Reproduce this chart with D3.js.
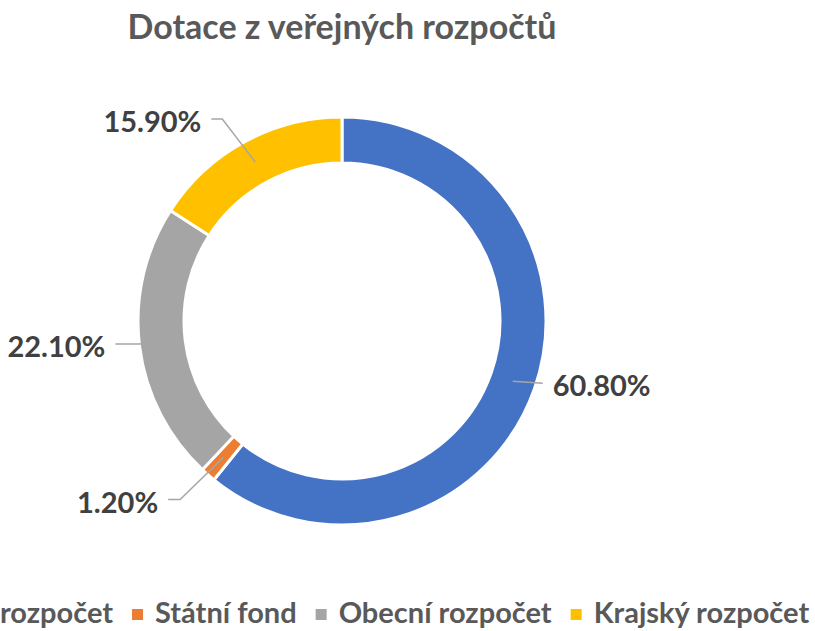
<!DOCTYPE html>
<html>
<head>
<meta charset="utf-8">
<script src="https://cdn.jsdelivr.net/npm/d3@7"></script>
<style>
  body { margin: 0; background: #fff; }
  svg text { font-family: Lato, "Open Sans", sans-serif; font-weight: 700; }
</style>
</head>
<body>
<div id="chart"></div>
<script>
// data
const categories = ['Státní rozpočet', 'Státní fond', 'Obecní rozpočet', 'Krajský rozpočet']
const shares = [60.8, 1.2, 22.1, 15.9]
const colors = ['#4472C4', '#ED7D31', '#A5A5A5', '#FFC000']

// label leader layout: offset from slice centre to elbow, then horizontal tail
const leaderOffsets = [[30, 2], [-43, 42], [-24, 1], [-33, -43]]
const leaderTails = [0, -12, -23, -11]

function draw() {
  let dimensions = {
    width: 815,
    height: 631,
    cx: 342,
    cy: 321,
    outer: 204,
    inner: 158
  }

  const svg = d3.select('#chart')
    .append('svg')
    .attr('width', dimensions.width)
    .attr('height', dimensions.height)

  //title
  svg.append('text')
    .attr('x', dimensions.cx)
    .attr('y', 39)
    .attr('text-anchor', 'middle')
    .attr('fill', '#595959')
    .style('font-size', '34px')
    .text('Dotace z veřejných rozpočtů')

  const dataset = categories.map((c, i) => ({ name: c, value: shares[i], color: colors[i], i }))

  const pie = d3.pie()
    .value(d => d.value)
    .sort(null)

  const arc = d3.arc()
    .innerRadius(dimensions.inner)
    .outerRadius(dimensions.outer)

  const g = svg.append('g')
    .attr('transform', `translate(${dimensions.cx},${dimensions.cy})`)

  const arcs = pie(dataset)

  g.selectAll('path')
    .data(arcs)
    .join('path')
    .attr('d', arc)
    .attr('fill', d => d.data.color)
    .attr('stroke', '#fff')
    .attr('stroke-width', 3)

  //leader lines + labels
  const labels = g.append('g')
  arcs.forEach((d, i) => {
    const [x0, y0] = arc.centroid(d)
    const x1 = x0 + leaderOffsets[i][0]
    const y1 = y0 + leaderOffsets[i][1]
    const x2 = x1 + leaderTails[i]
    labels.append('polyline')
      .attr('points', [[x0, y0], [x1, y1], [x2, y1]].map(p => p.join(',')).join(' '))
      .attr('fill', 'none')
      .attr('stroke', '#A6A6A6')
      .attr('stroke-width', 1.5)
    const right = x2 > 0
    labels.append('text')
      .attr('x', right ? x2 + 10 : x2 - 10)
      .attr('y', y1 + 3)
      .attr('dy', '0.35em')
      .attr('text-anchor', right ? 'start' : 'end')
      .attr('fill', '#404040')
      .style('font-size', '29px')
      .text(d3.format('.2f')(d.data.value) + '%')
  })

  //legend
  const legend = svg.append('g')
  const items = legend.selectAll('g')
    .data(dataset)
    .join('g')
  items.append('rect')
    .attr('width', 11)
    .attr('height', 11)
    .attr('y', -14)
    .attr('fill', d => d.color)
  items.append('text')
    .attr('x', 23)
    .attr('fill', '#595959')
    .style('font-size', '29px')
    .text(d => d.name)

  let x = 0
  items.each(function () {
    d3.select(this).attr('transform', `translate(${x},0)`)
    x += 23 + d3.select(this).select('text').node().getComputedTextLength() + 19
  })
  const total = x - 19
  legend.attr('transform', `translate(${352 - total / 2},623)`)
}

draw()
</script>
</body>
</html>
